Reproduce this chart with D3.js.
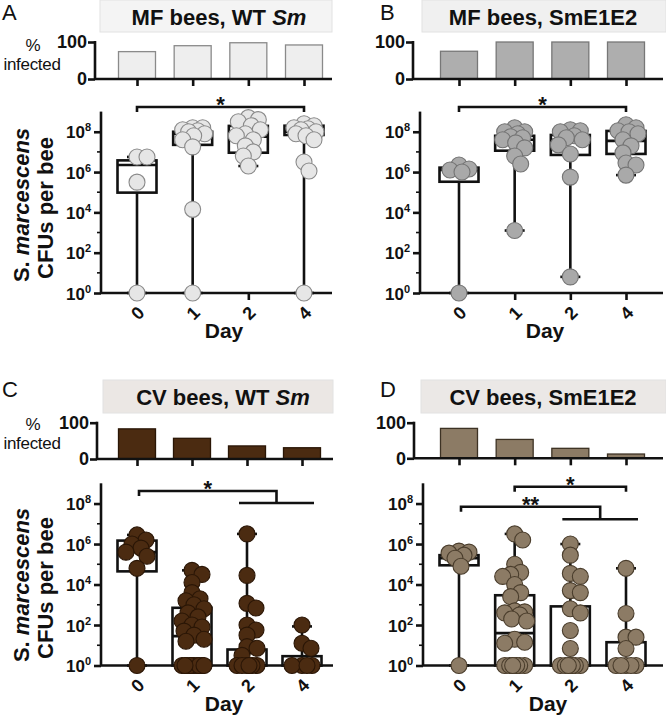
<!DOCTYPE html>
<html><head><meta charset="utf-8">
<script src="https://cdn.jsdelivr.net/npm/d3@7"></script>
<style>
body{margin:0;background:#fff;}
text{font-family:"Liberation Sans",Arial,Helvetica,sans-serif;}
</style></head>
<body><svg id="c" width="666" height="723"></svg>
<script>
// ---------- DATA ----------
const days = ["0", "1", "2", "4"];
const yTickExps = [0, 2, 4, 6, 8];
const pctTicks = [0, 100];

// % infected per day
const pctMF_WT = [74, 90, 98, 92];
const pctMF_E1E2 = [75, 100, 100, 100];
const pctCV_WT = [83, 57, 36, 31];
const pctCV_E1E2 = [84, 53, 28, 12];

// CFUs per bee, as log10 exponents, per day
const cfuMF_WT = [
  [0, 5.5, 6.75, 6.75],
  [0, 4.15, 7.25, 7.6, 7.8, 7.9, 8.0, 8.05, 8.1, 8.2, 8.2],
  [6.3, 6.8, 7.0, 7.3, 7.6, 7.8, 7.9, 8.1, 8.3, 8.5, 8.6, 8.7],
  [0, 6.05, 6.5, 7.6, 7.8, 7.9, 8.0, 8.1, 8.15, 8.2, 8.3, 8.4]
];
const cfuMF_E1E2 = [
  [0, 6.0, 6.1, 6.15, 6.35],
  [3.1, 6.4, 6.8, 7.2, 7.45, 7.6, 7.7, 7.75, 7.9, 8.0, 8.0, 8.2],
  [0.8, 5.75, 6.9, 7.35, 7.6, 7.7, 7.8, 8.0, 8.05, 8.1],
  [5.85, 6.35, 6.45, 6.95, 7.3, 7.6, 7.9, 8.0, 8.05, 8.2, 8.35]
];
const cfuCV_WT = [
  [0, 4.8, 5.4, 5.6, 5.8, 6.0, 6.2, 6.45],
  [0, 0, 0, 0, 0, 0, 0, 0, 0, 0, 1.2, 1.3, 1.5, 1.7, 1.9, 2.0, 2.2, 2.4, 2.6, 2.8, 3.0, 3.2, 3.3, 3.6, 4.1, 4.5, 4.7],
  [0, 0, 0, 0, 0, 0, 0.5, 0.85, 0.93, 1.5, 1.75, 2.0, 2.84, 3.07, 4.45, 6.5],
  [0, 0, 0, 0, 0.85, 1.1, 2.0]
];
const cfuCV_E1E2 = [
  [0, 4.9, 5.3, 5.45, 5.55, 5.6, 5.65],
  [0, 0, 0, 0, 0, 0, 0, 1.1, 1.15, 1.3, 2.2, 2.3, 2.5, 2.6, 2.65, 2.7, 3.4, 3.6, 4.0, 4.4, 4.5, 4.6, 5.0, 6.2, 6.5],
  [0, 0, 0, 0, 0, 0, 0, 0.84, 1.73, 2.6, 2.8, 3.6, 3.7, 4.4, 4.55, 5.45, 6.0],
  [0, 0, 0, 0, 0, 0.84, 1.4, 1.4, 2.57, 4.8]
];

// box stats [min, q1, median, q3, max] as log10 exponents
const boxMF_WT = [[0, 4.98, 6.35, 6.58, 6.75], [0, 7.35, 7.9, 8.0, 8.2], [6.3, 6.96, 7.76, 8.29, 8.7], [0, 7.84, 8.0, 8.3, 8.4]];
const boxMF_E1E2 = [[0, 5.52, 6.1, 6.22, 6.35], [3.1, 7.06, 7.6, 7.8, 8.2], [0.8, 6.85, 7.6, 7.84, 8.1], [5.85, 6.9, 7.55, 8.04, 8.35]];
const boxCV_WT = [[0, 4.65, 5.6, 6.17, 6.45], [0, 0, 1.45, 2.85, 4.7], [0, 0, 0, 0.79, 6.5], [0, 0, 0, 0.46, 1.93]];
const boxCV_E1E2 = [[0, 4.95, 5.3, 5.45, 5.65], [0, 0, 1.6, 3.47, 6.5], [0, 0, 0, 2.92, 6.0], [0, 0, 0, 1.15, 4.8]];

// ---------- LAYOUT ----------
const FONT = '"Liberation Sans",Arial,Helvetica,sans-serif';
const svg = d3.select("#c");

const panels = [
  {letter: "A", lx: 2, ly: 20, title: ["MF bees, WT ", "Sm"], tbox: [100, 0, 232, 32], tx: 219, ty: 25, tfill: "#f4f4f4",
   pct: pctMF_WT, cfu: cfuMF_WT, box: boxMF_WT,
   barFill: "#eeeeee", barStroke: "#8a8a8a", ptFill: "#e6e6e6", ptStroke: "#8a8a8a",
   topAxisX: 95, top0: 79, top100: 42, xEnd: 332, mainX: 101, bottom: 293, top: 111.6,
   xr: [137, 304], yLabel: 205, dayX: 224, showPctLabel: true, pctLabelY: 51},
  {letter: "B", lx: 380, ly: 20, title: ["MF bees, SmE1E2"], tbox: [422, 0, 244, 32], tx: 543, ty: 25, tfill: "#f0f0f0",
   pct: pctMF_E1E2, cfu: cfuMF_E1E2, box: boxMF_E1E2,
   barFill: "#aeaeae", barStroke: "#777777", ptFill: "#a9a9a9", ptStroke: "#747474",
   topAxisX: 413, top0: 79, top100: 42, xEnd: 663, mainX: 420, bottom: 293, top: 111.6,
   xr: [459, 626], yLabel: null, dayX: 545, showPctLabel: false},
  {letter: "C", lx: 2, ly: 397, title: ["CV bees, WT ", "Sm"], tbox: [103, 380, 230, 33], tx: 223, ty: 405, tfill: "#ebe7e4",
   pct: pctCV_WT, cfu: cfuCV_WT, box: boxCV_WT,
   barFill: "#4b2b11", barStroke: "#2a1606", ptFill: "#4b2b11", ptStroke: "#2a1606",
   topAxisX: 97, top0: 459, top100: 422.7, xEnd: 333, mainX: 101, bottom: 665.5, top: 483.3,
   xr: [137, 302], yLabel: 585, dayX: 224, showPctLabel: true, pctLabelY: 430},
  {letter: "D", lx: 380, ly: 397, title: ["CV bees, SmE1E2"], tbox: [421, 380, 245, 33], tx: 543, ty: 405, tfill: "#ebe8e6",
   pct: pctCV_E1E2, cfu: cfuCV_E1E2, box: boxCV_E1E2,
   barFill: "#8c7b65", barStroke: "#3d3224", ptFill: "#8c7b65", ptStroke: "#4a3d2c",
   topAxisX: 414, top0: 458.3, top100: 422.7, xEnd: 663, mainX: 423, bottom: 665.5, top: 483.3,
   xr: [459, 626], yLabel: null, dayX: 548, showPctLabel: false}
];

// significance brackets (by day indices)
const sig = {
  A: [{type: "simple", from: 0, to: 3, y: 107, label: "*"}],
  B: [{type: "simple", from: 0, to: 3, y: 107, label: "*"}],
  C: [{type: "group", from: 0, g1: 2, g2: 3, y: 491, y2: 503, label: "*"}],
  D: [{type: "simple", from: 1, to: 3, y: 486.7, label: "*"},
      {type: "group", from: 0, g1: 2, g2: 3, y: 506.7, y2: 519.3, label: "**"}]
};

const LW = 2.6;
const R = 8;

function swarm(vals, y, xc, minD, maxOff) {
  const placed = [];
  const sorted = vals.slice().sort((a, b) => b - a);
  sorted.forEach(v => {
    const py = y(Math.pow(10, v));
    let best = 0, bestD = -1;
    const cands = [0];
    for (let k = 1; k <= maxOff; k++) { cands.push(k, -k); }
    for (const off of cands) {
      let md = Infinity;
      for (const p of placed) {
        const d = Math.hypot(p.x - (xc + off), p.y - py);
        if (d < md) md = d;
      }
      if (md >= minD) { best = off; bestD = md; break; }
      if (md > bestD) { bestD = md; best = off; }
    }
    placed.push({x: xc + best, y: py, v});
  });
  return placed;
}

panels.forEach(P => {
  const g = svg.append("g");
  g.append("text").attr("x", P.lx).attr("y", P.ly).attr("font-size", 22).attr("fill", "#111").text(P.letter);
  g.append("rect").attr("x", P.tbox[0]).attr("y", P.tbox[1]).attr("width", P.tbox[2]).attr("height", P.tbox[3])
    .attr("fill", P.tfill).attr("stroke", "#e2e2e2").attr("stroke-width", 1);
  const tt = g.append("text").attr("x", P.tx).attr("y", P.ty).attr("text-anchor", "middle")
    .attr("font-size", 22).attr("font-weight", "bold").attr("fill", "#111");
  tt.append("tspan").text(P.title[0]);
  if (P.title[1]) tt.append("tspan").attr("font-style", "italic").text(P.title[1]);

  const x = d3.scalePoint().domain(days).range(P.xr);

  // ---- top % infected bar chart ----
  const yp = d3.scaleLinear().domain([0, 100]).range([P.top0, P.top100]);
  g.selectAll(".bar").data(P.pct).enter().append("rect")
    .attr("x", (d, i) => x(days[i]) - 18.5).attr("width", 37)
    .attr("y", d => yp(d)).attr("height", d => yp(0) - yp(d))
    .attr("fill", P.barFill).attr("stroke", P.barStroke).attr("stroke-width", 1.3);
  const topAx = g.append("g").attr("transform", `translate(${P.topAxisX},0)`)
    .call(d3.axisLeft(yp).tickValues(pctTicks).tickSize(7).tickFormat(d3.format("d")));
  topAx.select(".domain").attr("stroke", "#111").attr("stroke-width", LW).attr("d", `M0,${P.top100 - 1}V${P.top0}`);
  topAx.selectAll(".tick line").attr("stroke", "#111").attr("stroke-width", LW);
  topAx.selectAll(".tick text").attr("font-family", FONT).attr("font-size", 18).attr("font-weight", "bold")
    .attr("fill", "#111").attr("x", -8);
  const topX = g.append("g").attr("transform", `translate(0,${P.top0})`)
    .call(d3.axisBottom(x).tickSize(7).tickFormat(""));
  topX.select(".domain").attr("stroke", "#111").attr("stroke-width", LW).attr("d", `M${P.topAxisX},0H${P.xEnd}`);
  topX.selectAll(".tick line").attr("stroke", "#111").attr("stroke-width", LW);

  if (P.showPctLabel) {
    g.append("text").attr("x", 33).attr("y", P.pctLabelY).attr("text-anchor", "middle")
      .attr("font-size", 17).attr("fill", "#111").text("%");
    g.append("text").attr("x", 32).attr("y", P.pctLabelY + 19).attr("text-anchor", "middle")
      .attr("font-size", 17).attr("fill", "#111").attr("letter-spacing", -0.3).text("infected");
  }

  // ---- main CFU plot ----
  const y = d3.scaleLog().domain([1, 1e9]).range([P.bottom, P.top]);
  const minorExps = [1, 3, 5, 7];
  g.selectAll(".minor").data(minorExps).enter().append("line")
    .attr("x1", P.mainX - 4).attr("x2", P.mainX)
    .attr("y1", d => y(Math.pow(10, d))).attr("y2", d => y(Math.pow(10, d)))
    .attr("stroke", "#111").attr("stroke-width", 1.6);
  const yAx = g.append("g").attr("transform", `translate(${P.mainX},0)`)
    .call(d3.axisLeft(y).tickValues(yTickExps.map(e => Math.pow(10, e))).tickSize(7).tickFormat(""));
  yAx.select(".domain").attr("stroke", "#111").attr("stroke-width", LW).attr("d", `M0,${P.top}V${P.bottom}`);
  yAx.selectAll(".tick line").attr("stroke", "#111").attr("stroke-width", LW);
  yAx.selectAll(".tick").each(function (d, i) {
    const t = d3.select(this).append("text").attr("x", -10).attr("y", 6).attr("text-anchor", "end")
      .attr("font-family", FONT).attr("font-size", 17).attr("font-weight", "bold").attr("fill", "#111");
    t.append("tspan").text("10");
    t.append("tspan").attr("dy", -7).attr("font-size", 11).text(yTickExps[i]);
  });

  const xAx = g.append("g").attr("transform", `translate(0,${P.bottom})`)
    .call(d3.axisBottom(x).tickSize(7).tickFormat(""));
  xAx.select(".domain").attr("stroke", "#111").attr("stroke-width", LW).attr("d", `M${P.mainX},0H${P.xEnd}`);
  xAx.selectAll(".tick line").attr("stroke", "#111").attr("stroke-width", LW);
  xAx.selectAll(".tick").append("text")
    .attr("transform", "translate(0,20) rotate(-45)")
    .attr("text-anchor", "middle").attr("dy", "0.35em")
    .attr("font-family", FONT).attr("font-size", 18).attr("font-weight", "bold").attr("fill", "#111")
    .text(d => d);
  g.append("text").attr("x", P.dayX).attr("y", P.bottom + 45).attr("text-anchor", "middle")
    .attr("font-size", 21).attr("font-weight", "bold").attr("fill", "#111").text("Day");

  if (P.yLabel) {
    const l1 = g.append("text").attr("transform", `translate(29,${P.yLabel}) rotate(-90)`)
      .attr("text-anchor", "middle").attr("font-size", 22).attr("font-weight", "bold").attr("fill", "#111");
    l1.append("tspan").text("S. ");
    l1.append("tspan").attr("font-style", "italic").text("marcescens");
    g.append("text").attr("transform", `translate(53,${P.yLabel + 3}) rotate(-90)`)
      .attr("text-anchor", "middle").attr("font-size", 22).attr("font-weight", "bold").attr("fill", "#111")
      .text("CFUs per bee");
  }

  // boxes & whiskers
  const bw = 39, cw = 20;
  P.box.forEach((b, i) => {
    const xc = x(days[i]);
    const [mn, q1, md, q3, mx] = b.map(e => y(Math.pow(10, e)));
    const bg = g.append("g").attr("stroke", "#111").attr("stroke-width", LW).attr("fill", "none");
    bg.append("line").attr("x1", xc).attr("x2", xc).attr("y1", mn).attr("y2", q1);
    bg.append("line").attr("x1", xc).attr("x2", xc).attr("y1", q3).attr("y2", mx);
    bg.append("line").attr("x1", xc - cw / 2).attr("x2", xc + cw / 2).attr("y1", mx).attr("y2", mx);
    bg.append("line").attr("x1", xc - cw / 2).attr("x2", xc + cw / 2).attr("y1", mn).attr("y2", mn);
    bg.append("rect").attr("x", xc - bw / 2).attr("width", bw).attr("y", q3).attr("height", Math.max(0, q1 - q3));
    bg.append("line").attr("x1", xc - bw / 2).attr("x2", xc + bw / 2).attr("y1", md).attr("y2", md);
  });

  // points
  P.cfu.forEach((vals, i) => {
    const pts = swarm(vals, y, x(days[i]), 10, 12);
    g.selectAll(null).data(pts).enter().append("circle")
      .attr("cx", d => d.x).attr("cy", d => d.y).attr("r", R)
      .attr("fill", P.ptFill).attr("stroke", P.ptStroke).attr("stroke-width", 1.1);
  });

  // significance
  (sig[P.letter] || []).forEach(s => {
    const sg = g.append("g").attr("stroke", "#111").attr("stroke-width", LW).attr("fill", "none");
    let cx;
    if (s.type === "simple") {
      const x1 = x(days[s.from]), x2 = x(days[s.to]);
      sg.append("path").attr("d", `M${x1},${s.y + 5}V${s.y}H${x2}V${s.y + 5}`);
      cx = (x1 + x2) / 2;
    } else {
      const x1 = x(days[s.from]) + 2;
      const s1 = x(days[s.g1]) - 8, s2 = x(days[s.g2]) + 12;
      const mid = (s1 + s2) / 2;
      sg.append("path").attr("d", `M${x1},${s.y + 5}V${s.y}H${mid}V${s.y2}`);
      sg.append("path").attr("d", `M${s1},${s.y2}H${s2}`);
      cx = (x1 + mid) / 2;
    }
    g.append("text").attr("x", cx).attr("y", s.y + 5).attr("text-anchor", "middle")
      .attr("font-size", 22).attr("font-weight", "bold").attr("fill", "#111").text(s.label);
  });
});
</script></body></html>
